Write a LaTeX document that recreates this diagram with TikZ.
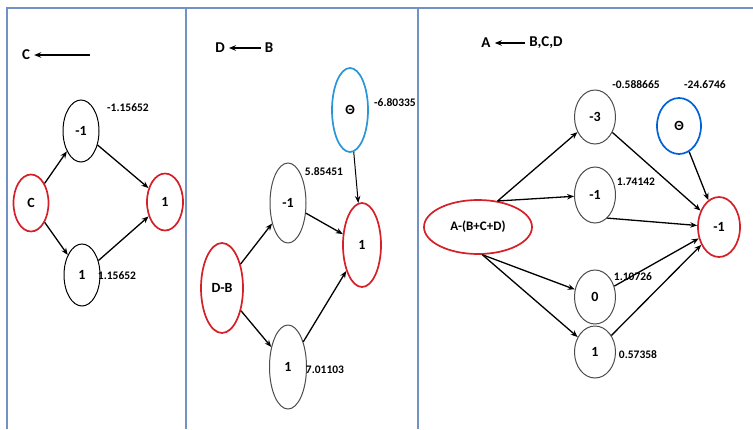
\documentclass[tikz,border=0pt]{standalone}
\usepackage{fontspec}
\setmainfont{Carlito}
\usetikzlibrary{arrows.meta,shapes.geometric,positioning}
\definecolor{frameblue}{RGB}{112,146,196}
\definecolor{inred}{RGB}{214,32,40}
\definecolor{biasblue}{RGB}{40,150,215}

\begin{document}
\begin{tikzpicture}[
        x=1pt, y=-1pt,
        >={Stealth[length=7pt,width=5.5pt]},
        font=\bfseries,
        unit/.style={ellipse, draw=black, line width=1pt, inner sep=0pt,
                     minimum width=38pt, minimum height=56pt, font=\bfseries\fontsize{14}{14}\selectfont},
        inp/.style={unit, draw=inred, line width=1.7pt},
        bias/.style={unit, draw=biasblue, line width=1.7pt},
        wt/.style={font=\bfseries\fontsize{11.5}{11.5}\selectfont, inner sep=0pt},
        title/.style={font=\bfseries\fontsize{15}{15}\selectfont, inner sep=1pt},
        link/.style={->, line width=1.3pt},
        heading/.style={->, line width=1.8pt, shorten >=3pt, shorten <=3pt},
        frame/.style={draw=frameblue, line width=1.4pt}
        ]
    \useasboundingbox[fill=white] (0,0) rectangle (753,429);

    % panel frames
    \draw[frame] (7,429) -- (7,8) -- (753,8);
    \draw[frame] (186,8) -- (186,429);
    \draw[frame] (418,8) -- (418,429);

    % first panel
    \node[title] (tC) at (26,55) {C};
    \coordinate (tCend) at (90,55);
    \draw[heading, line width=2pt, shorten <=0pt] (tCend) -- (tC);
    \node[inp, minimum width=35pt, minimum height=57pt] (c) at (31,203) {C};
    \node[unit, minimum width=36pt, minimum height=62pt] (ca) at (81,131) {-1};
    \node[unit, minimum width=36pt, minimum height=62pt] (cb) at (82,275) {1};
    \node[inp, minimum width=36pt, minimum height=57pt] (co) at (165,202) {1};
    \node[wt] at (128,108) {-1.15652};
    \node[wt] at (117,276) {1.15652};
    \path[link]
          (c) edge (ca)
          (c) edge (cb)
          (ca) edge (co)
          (cb) edge (co);

    % second panel
    \node[title] (tD) at (220,48) {D};
    \node[title] (tB) at (269,48) {B};
    \draw[heading] (tB) -- (tD);
    \node[bias, minimum width=36pt, minimum height=84pt] (dth) at (350,110) {Θ};
    \node[inp, minimum width=42pt, minimum height=90pt] (db) at (222,288) {D-B};
    \node[unit, minimum width=36pt, minimum height=80pt, draw=black!70] (da) at (288,203) {-1};
    \node[unit, minimum width=37pt, minimum height=84pt, draw=black!70] (dc) at (288,367) {1};
    \node[inp, minimum width=38pt, minimum height=84pt] (do) at (362,245) {1};
    \node[wt] at (395,103) {-6.80335};
    \node[wt] at (324,172) {5.85451};
    \node[wt] at (325,370) {7.01103};
    \path[link]
          (db) edge (da)
          (db) edge (dc)
          (da) edge (do)
          (dc) edge (do)
          (dth) edge[line width=1pt] (do);

    % third panel
    \node[title] (tA) at (486,43) {A};
    \node[title] (tBCD) at (546,43) {B,C,D};
    \draw[heading, line width=1.6pt] (tBCD) -- (tA);
    \node[inp, minimum width=108pt, minimum height=54pt, font=\bfseries\fontsize{13}{13}\selectfont] (a) at (478,227) {A-(B+C+D)};
    \node[unit, minimum width=41pt, minimum height=54pt, draw=black!70] (a1) at (595,117) {-3};
    \node[unit, minimum width=41pt, minimum height=56pt, draw=black!70] (a2) at (595,195) {-1};
    \node[unit, minimum width=41pt, minimum height=54pt, draw=black!70] (a3) at (595,297) {0};
    \node[unit, minimum width=41pt, minimum height=52pt, draw=black!70] (a4) at (595,352) {1};
    \node[bias, minimum width=44pt, minimum height=56pt, draw=blue!55!cyan!85!black] (ath) at (679,126) {Θ};
    \node[inp, minimum width=42pt, minimum height=60pt] (ao) at (719,227) {-1};
    \node[wt] at (636,85) {-0.588665};
    \node[wt] at (705,85) {-24.6746};
    \node[wt] at (636,182) {1.74142};
    \node[wt] at (633,277) {1.10726};
    \node[wt] at (638,355) {0.57358};
    \path[link]
          (a.53) edge (a1)
          (a.53) edge (a2)
          (a.-81) edge (a3)
          (a.-81) edge (a4)
          (a1) edge (ao)
          (a2.-62) edge (ao.176)
          (a3) edge (ao)
          (a4) edge (ao)
          (ath) edge (ao);
\end{tikzpicture}
\end{document}
